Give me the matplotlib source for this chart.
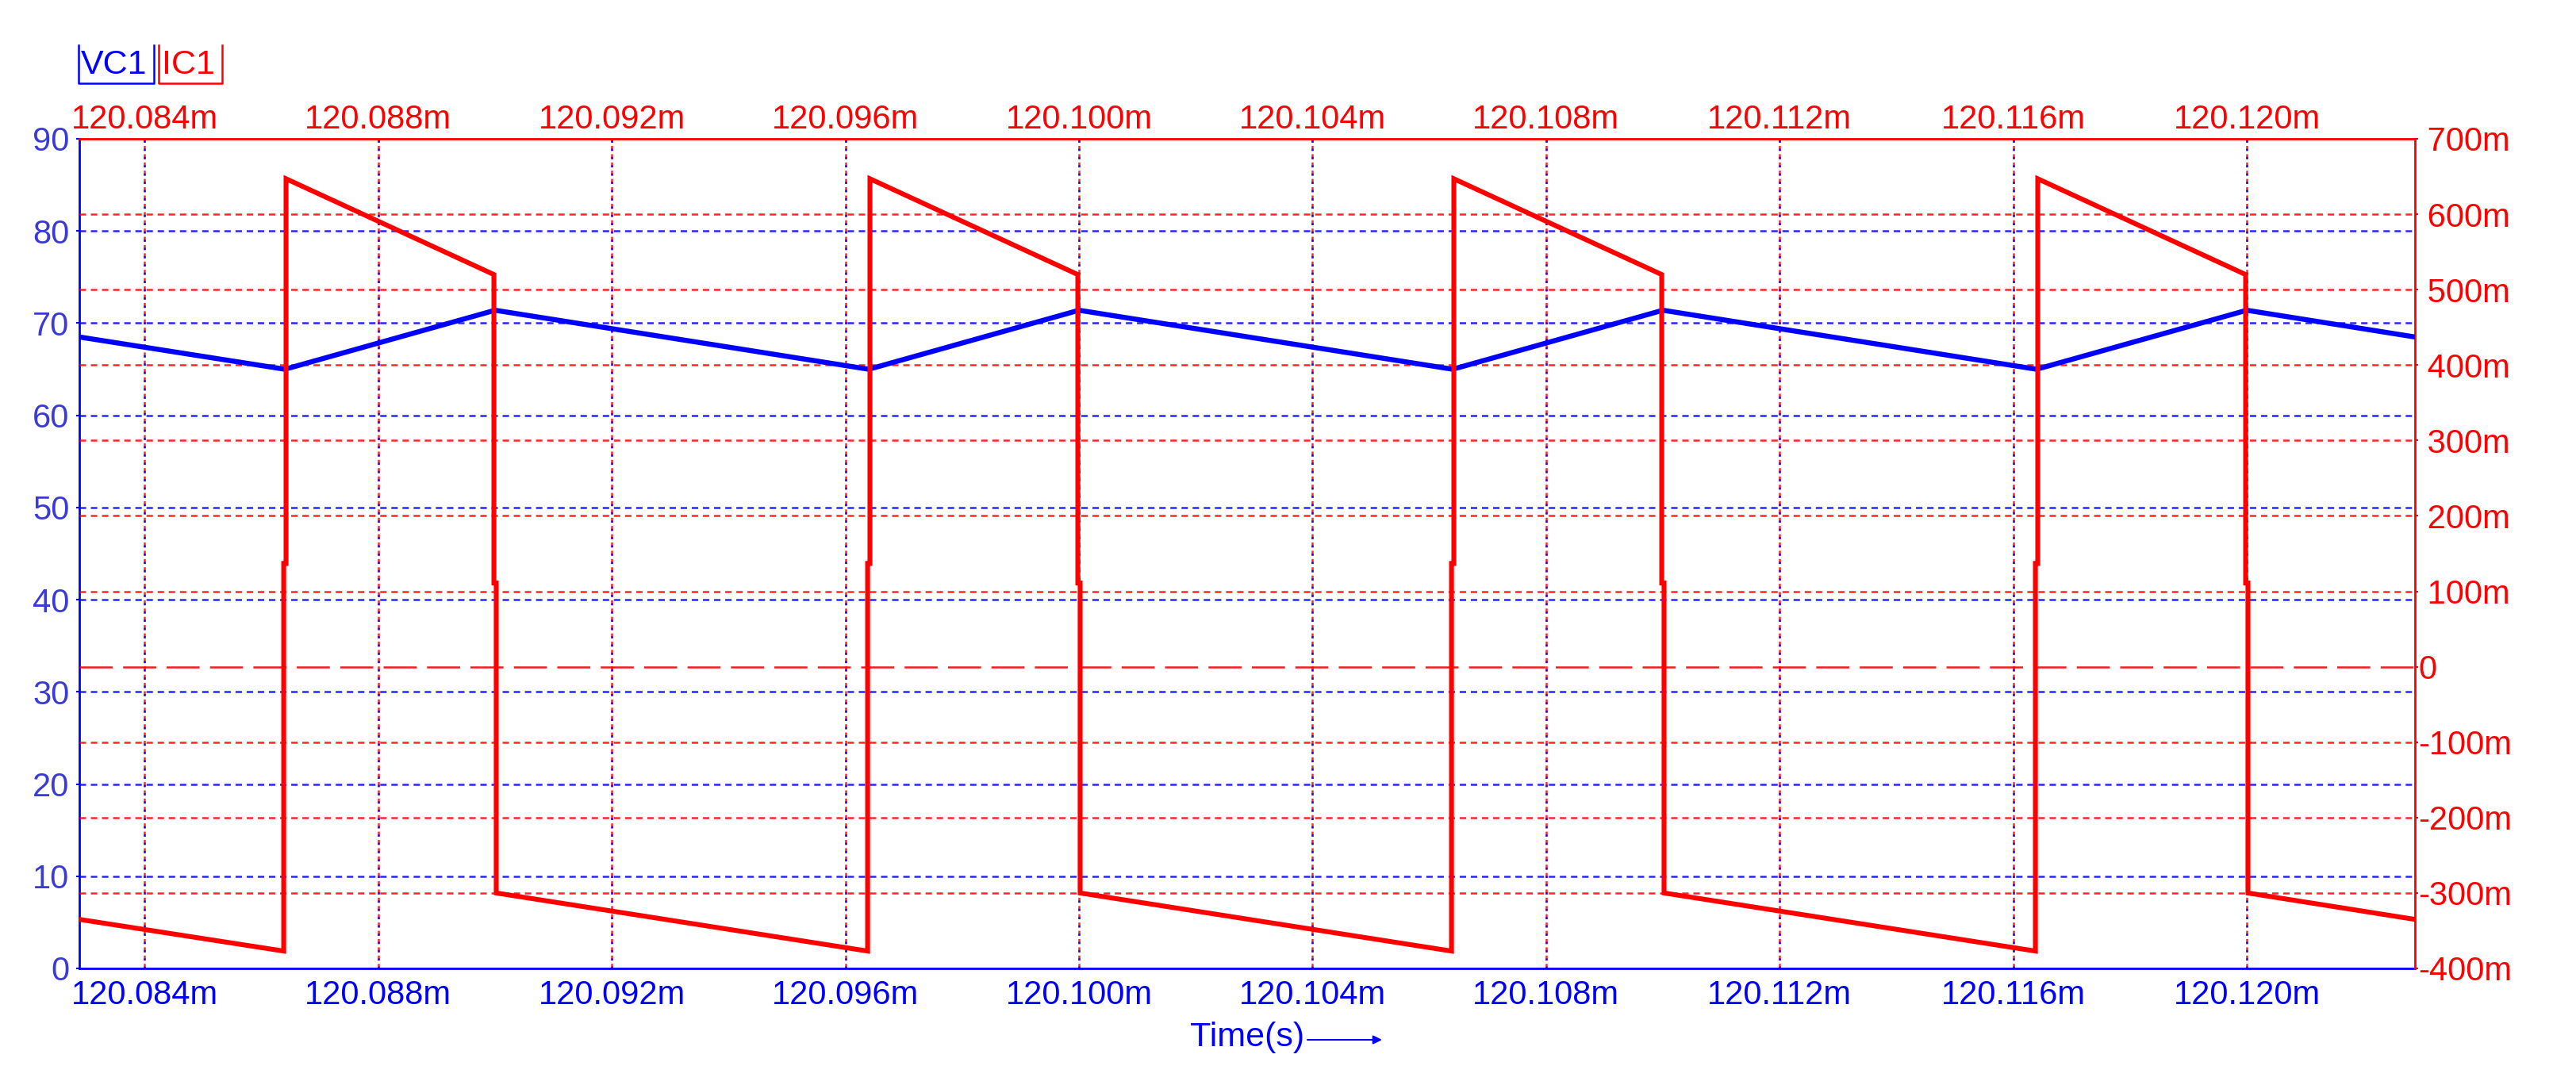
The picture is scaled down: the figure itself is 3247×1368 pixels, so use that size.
import matplotlib
matplotlib.use('Agg')
import matplotlib.pyplot as plt
from matplotlib.lines import Line2D

plt.rcParams['font.family'] = ['Liberation Sans', 'DejaVu Sans']
plt.rcParams['lines.scale_dashes'] = False

# ---------------- data (time in ms) ----------------
t_lim = [120.08288, 120.12288]
x_ticks = [120.084, 120.088, 120.092, 120.096, 120.100,
           120.104, 120.108, 120.112, 120.116, 120.120]
x_tick_labels = ['120.084m', '120.088m', '120.092m', '120.096m', '120.100m',
                 '120.104m', '120.108m', '120.112m', '120.116m', '120.120m']

vc_lim = [0, 90]
vc_ticks = [0, 10, 20, 30, 40, 50, 60, 70, 80, 90]
vc_tick_labels = ['0', '10', '20', '30', '40', '50', '60', '70', '80', '90']

ic_lim = [-0.4, 0.7]
ic_ticks = [-0.4, -0.3, -0.2, -0.1, 0.0, 0.1, 0.2, 0.3, 0.4, 0.5, 0.6, 0.7]
ic_tick_labels = ['-400m', '-300m', '-200m', '-100m', '0', ' 100m', ' 200m',
                  ' 300m', ' 400m', ' 500m', ' 600m', ' 700m']

# VC1 (V) - capacitor voltage
vc_t = [120.08288, 120.0864, 120.0900, 120.0964, 120.1000,
        120.1064, 120.1100, 120.1164, 120.1200, 120.12288]
vc_v = [68.5, 65.0, 71.4, 65.0, 71.4, 65.0, 71.4, 65.0, 71.4, 68.5]

# IC1 (A) - capacitor current
ic_t = [120.08288,
        120.08638, 120.08638, 120.08642, 120.08642,
        120.08998, 120.08998, 120.09002, 120.09002,
        120.09638, 120.09638, 120.09642, 120.09642,
        120.09998, 120.09998, 120.10002, 120.10002,
        120.10638, 120.10638, 120.10642, 120.10642,
        120.10998, 120.10998, 120.11002, 120.11002,
        120.11638, 120.11638, 120.11642, 120.11642,
        120.11998, 120.11998, 120.12002, 120.12002,
        120.12288]
ic_v = [-0.335,
        -0.377, 0.137, 0.137, 0.647,
        0.520, 0.111, 0.111, -0.300,
        -0.377, 0.137, 0.137, 0.647,
        0.520, 0.111, 0.111, -0.300,
        -0.377, 0.137, 0.137, 0.647,
        0.520, 0.111, 0.111, -0.300,
        -0.377, 0.137, 0.137, 0.647,
        0.520, 0.111, 0.111, -0.300,
        -0.335]

# ---------------- styling ----------------
BLUE = '#0000ff'
LBLUE = '#3a3ad6'
RED = '#ff0000'
FS = 30
W_PX, H_PX = 3248, 1368


def fx(px):
    return px / W_PX


def fy(py):
    return 1 - py / H_PX


fig = plt.figure(figsize=(W_PX / 100, H_PX / 100), dpi=100)
fig.patch.set_facecolor('white')
ax = fig.add_axes([fx(100), fy(1221), fx(3044) - fx(100), fy(175) - fy(1221)])
ax2 = ax.twinx()

# grid lines
for v in vc_ticks[1:-1]:
    ax.axhline(v, color=BLUE, lw=1.8, dashes=(5.8, 4.3), alpha=0.85, zorder=1)
for x in x_ticks:
    ax.axvline(x, color=RED, lw=1.8, dashes=(4.5, 3.0), alpha=0.85, zorder=1)
    ax.axvline(x, color=BLUE, lw=1.8, dashes=(2.0, 5.5), alpha=0.85, zorder=1.1)
for v in ic_ticks[1:-1]:
    if v == 0:
        ax2.axhline(v, color=RED, lw=1.8, dashes=(30, 9.4), alpha=0.9, zorder=1)
    else:
        ax2.axhline(v, color=RED, lw=1.8, dashes=(5.8, 4.3), alpha=0.85, zorder=1)

# series
ax2.plot(vc_t, vc_v, color=BLUE, lw=4.6, transform=ax.transData, zorder=3,
         solid_joinstyle='miter')
ax2.plot(ic_t, ic_v, color=RED, lw=4.4, zorder=4, solid_joinstyle='miter')

ax.set_xlim(t_lim)
ax.set_ylim(vc_lim)
ax2.set_ylim(ic_lim)

# axes / ticks
ax.set_xticks(x_ticks)
ax.set_xticklabels(x_tick_labels)
ax.set_yticks(vc_ticks)
ax.set_yticklabels(vc_tick_labels)
ax2.set_yticks(ic_ticks)
ax2.set_yticklabels(ic_tick_labels)

ax.tick_params(axis='x', length=0, labelcolor=BLUE, labelsize=FS, pad=10)
ax.tick_params(axis='y', direction='out', length=3, width=1.5, color=BLUE,
               labelcolor=LBLUE, labelsize=FS, pad=6)
ax2.tick_params(axis='y', direction='out', length=3, width=1.5, color=RED,
                labelcolor=RED, labelsize=FS, pad=0)

sec = ax.secondary_xaxis('top')
sec.set_xticks(x_ticks)
sec.set_xticklabels(x_tick_labels)
sec.tick_params(axis='x', length=0, labelcolor=RED, labelsize=FS, pad=3)
sec.spines['top'].set_visible(False)

for s in ['top', 'right']:
    ax.spines[s].set_visible(False)
for s in ['left', 'bottom']:
    ax.spines[s].set_color(BLUE)
    ax.spines[s].set_linewidth(2.0)
    ax2.spines[s].set_visible(False)
for s in ['top', 'right']:
    ax2.spines[s].set_color(RED)
    ax2.spines[s].set_linewidth(2.0)

# legend-like labels
fig.text(fx(102), fy(82), 'VC1', color=BLUE, fontsize=FS + 1, ha='left', va='center')
fig.add_artist(Line2D([fx(99), fx(99), fx(194), fx(194)],
                      [fy(57), fy(105), fy(105), fy(57)],
                      transform=fig.transFigure, color=BLUE, lw=1.8))
fig.text(fx(204), fy(82), 'IC1', color=RED, fontsize=FS + 1, ha='left', va='center')
fig.add_artist(Line2D([fx(200), fx(200), fx(280), fx(280)],
                      [fy(57), fy(105), fy(105), fy(57)],
                      transform=fig.transFigure, color=RED, lw=1.8))

# x-axis title with arrow
fig.text(fx(1500), fy(1308), 'Time(s)', color=BLUE, fontsize=FS + 1, ha='left', va='center')
ax.annotate('', xy=(fx(1742), fy(1311)), xytext=(fx(1648), fy(1311)),
            xycoords='figure fraction', textcoords='figure fraction',
            arrowprops=dict(arrowstyle='-|>', color=BLUE, lw=1.5,
                            mutation_scale=16, shrinkA=0, shrinkB=0),
            annotation_clip=False)

fig.savefig('out.png', dpi=100, facecolor='white')
